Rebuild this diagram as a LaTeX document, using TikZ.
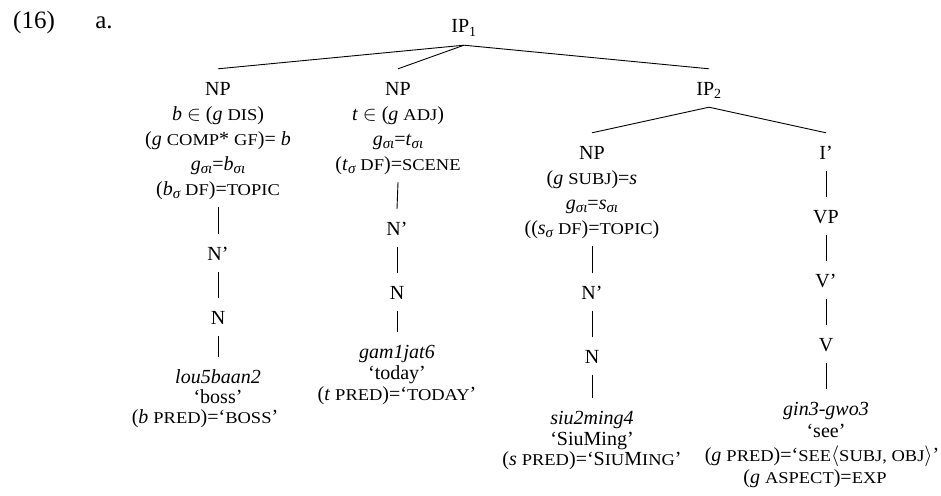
\documentclass[tikz,border=0pt]{standalone}
\usepackage{fontspec}
\setmainfont{Liberation Serif}
% small capitals, set as widened reduced upper-case letters
\newfontfamily\scfont[FakeStretch=1.12]{Liberation Serif}
\newcommand\fsc[1]{{\scfont\fontsize{16.5pt}{16.5pt}\selectfont #1}}
% italic subscript (sigma, iota)
\newcommand\gsub[1]{\raisebox{-3.5pt}{\fontsize{15pt}{15pt}\selectfont\itshape #1}}
\tikzset{
  lbl/.style={inner sep=0pt, anchor=base, text height=14pt, text depth=4pt,
              font=\fontsize{20pt}{24pt}\selectfont},
  exnum/.style={inner sep=0pt, anchor=base, font=\fontsize{25pt}{29pt}\selectfont},
  branch/.style={line width=0.9pt}
}
\newcommand\br[2]{\draw[branch] ([yshift=-8pt]#1.south) -- ([yshift=12pt]#2.north);}
\begin{document}
\begin{tikzpicture}[x=1pt,y=-1pt]
\useasboundingbox (0,0) rectangle (941,495);

% example number
\node[exnum] (num) at (34,29) {(16)};
\node[exnum] (sub) at (104,29) {a.};

% root
\node[lbl] (ip1) at (464,33) {IP\textsubscript{1}};

% first NP (topic)
\node[lbl] (np1) at (218,95) {NP};
\node[lbl] (np1a) at (218,120) {\textit{b} $\in$ (\textit{g} \fsc{DIS})};
\node[lbl] (np1b) at (218,145) {(\textit{g} \fsc{COMP}* \fsc{GF})= \textit{b}};
\node[lbl] (np1c) at (218,170) {\textit{g}\gsub{σι}=\textit{b}\gsub{σι}};
\node[lbl] (np1d) at (218,195) {(\textit{b}\gsub{σ} \fsc{DF})=\fsc{TOPIC}};
\node[lbl] (nb1) at (218,260) {N’};
\node[lbl] (n1) at (218,324) {N};
\node[lbl] (w1) at (218,383) {\textit{lou5baan2}};
\node[lbl] (g1) at (218,403) {‘boss’};
\node[lbl] (f1) at (205,423) {(\textit{b} \fsc{PRED})=‘\fsc{BOSS}’};

% second NP (adjunct)
\node[lbl] (np2) at (398,95) {NP};
\node[lbl] (np2a) at (398,120) {\textit{t} $\in$ (\textit{g} \fsc{ADJ})};
\node[lbl] (np2b) at (398,145) {\textit{g}\gsub{σι}=\textit{t}\gsub{σι}};
\node[lbl] (np2c) at (398,170) {(\textit{t}\gsub{σ} \fsc{DF})=\fsc{SCENE}};
\node[lbl] (nb2) at (397,235) {N’};
\node[lbl] (n2) at (397,299) {N};
\node[lbl] (w2) at (397,358) {\textit{gam1jat6}};
\node[lbl] (g2) at (397,379) {‘today’};
\node[lbl] (f2) at (397,400) {(\textit{t} \fsc{PRED})=‘\fsc{TODAY}’};

% IP2
\node[lbl] (ip2) at (709,95) {IP\textsubscript{2}};

% subject NP
\node[lbl] (np3) at (592,159) {NP};
\node[lbl] (np3a) at (592,184) {(\textit{g} \fsc{SUBJ})=\textit{s}};
\node[lbl] (np3b) at (592,209) {\textit{g}\gsub{σι}=\textit{s}\gsub{σι}};
\node[lbl] (np3c) at (592,234) {((\textit{s}\gsub{σ} \fsc{DF})=\fsc{TOPIC})};
\node[lbl] (nb3) at (592,299) {N’};
\node[lbl] (n3) at (592,363) {N};
\node[lbl] (w3) at (592,424) {\textit{siu2ming4}};
\node[lbl] (g3) at (592,445) {‘SiuMing’};
\node[lbl] (f3) at (592,465) {(\textit{s} \fsc{PRED})=‘S\fsc{IU}M\fsc{ING}’};

% verbal projection
\node[lbl] (ib) at (826,159) {I’};
\node[lbl] (vp) at (826,223) {VP};
\node[lbl] (vb) at (826,287) {V’};
\node[lbl] (v) at (826,351) {V};
\node[lbl] (w4) at (826,415) {\textit{gin3-gwo3}};
\node[lbl] (g4) at (826,437) {‘see’};
\node[lbl] (f4) at (822,461) {(\textit{g} \fsc{PRED})=‘\fsc{SEE}$\langle$\fsc{SUBJ, OBJ}$\rangle$’};
\node[lbl] (f4b) at (815,483) {(\textit{g} \fsc{ASPECT})=\fsc{EXP}};

% branches
\br{ip1}{np1}
\br{ip1}{np2}
\br{ip1}{ip2}
\br{np1d}{nb1}
\br{nb1}{n1}
\br{n1}{w1}
\br{np2c}{nb2}
\br{nb2}{n2}
\br{n2}{w2}
\br{ip2}{np3}
\br{ip2}{ib}
\br{np3c}{nb3}
\br{nb3}{n3}
\br{n3}{w3}
\br{ib}{vp}
\br{vp}{vb}
\br{vb}{v}
\br{v}{w4}
\end{tikzpicture}
\end{document}
